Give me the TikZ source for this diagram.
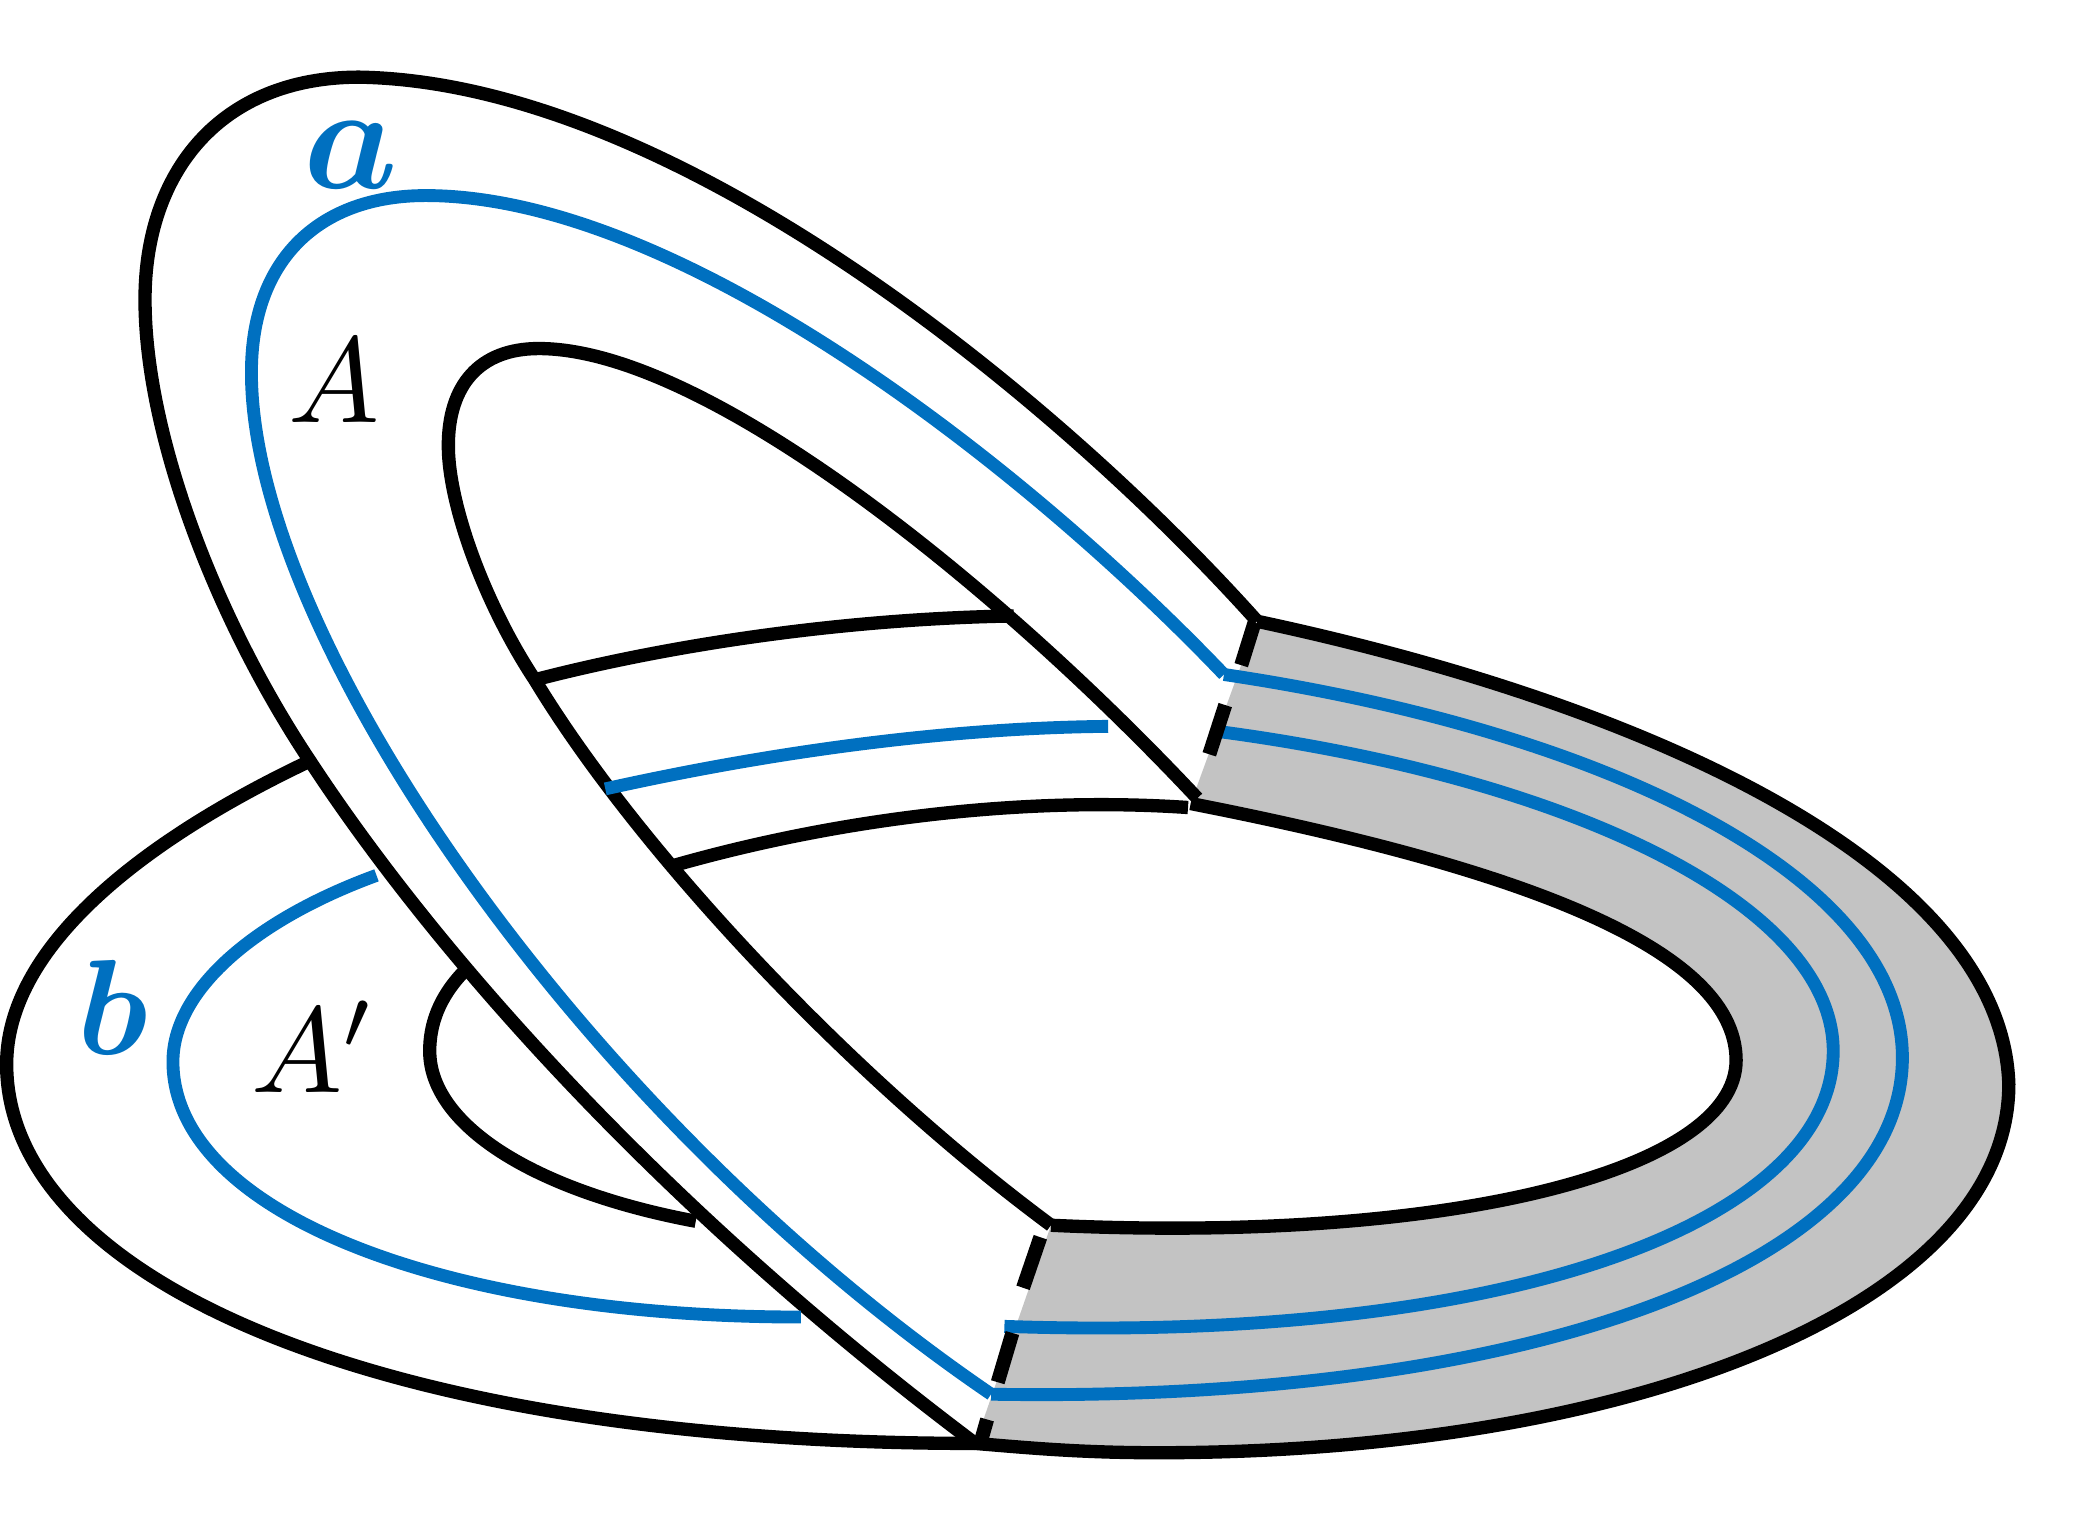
\documentclass[tikz,border=0pt]{standalone}
\usepackage{xcolor}
\definecolor{bandblue}{RGB}{0,112,192}
\definecolor{bandgray}{RGB}{195,195,195}
\newcommand{\outerside}{(ctop) .. controls (1250,532) and (1505,655) .. (1510,815) .. controls (1510,980) and (1230,1092) .. (870,1092) .. controls (810,1092) and (770,1088) .. (cbot)}
\newcommand{\innerside}{(clow) .. controls (1090,935) and (1305,880) .. (1305,797) .. controls (1305,710) and (1130,650) .. (cmid)}
\begin{document}
\begin{tikzpicture}[
    x=0.01cm, y=-0.01cm,
    edgeline/.style={draw=black, line width=2.85pt},
    curveline/.style={draw=bandblue, line width=2.75pt},
    cutline/.style={draw=black, line width=3pt},
    every node/.style={inner sep=0pt}]

    \useasboundingbox (0,0) rectangle (1568,1152);

    % corners of the two cuts
    \coordinate (ctop) at (945,467);
    \coordinate (cmid) at (895,604);
    \coordinate (clow) at (790,921);
    \coordinate (cbot) at (733,1085);
    \coordinate (cleft) at (233,572);
    \coordinate (cback) at (348,731);
    \coordinate (cfront) at (523,918);
    \coordinate (chole) at (402,511);
    \coordinate (cnear) at (505,651);

    % gray part of the band
    \fill[bandgray] \outerside -- \innerside -- cycle;

    % lower band
    \draw[edgeline] (cleft) .. controls (100,635) and (5,715) .. (5,800) .. controls (5,960) and (280,1085) .. (cbot);
    \draw[edgeline] (cback) .. controls (330,750) and (323,770) .. (323,790) .. controls (323,845) and (400,895) .. (cfront);
    \draw[edgeline] \outerside;
    \draw[edgeline] \innerside;

    % upper band
    \draw[edgeline] (ctop) .. controls (800,305) and (510,62) .. (270,58) .. controls (165,58) and (109,130) .. (109,225) .. controls (109,330) and (165,470) .. (cleft) .. controls (330,720) and (500,910) .. (cbot);
    \draw[edgeline] (900,600) .. controls (750,440) and (530,262) .. (405,262) .. controls (360,262) and (337,290) .. (337,335) .. controls (337,380) and (365,455) .. (chole) .. controls (480,640) and (640,810) .. (clow);

    % across the hole
    \draw[edgeline] (chole) .. controls (510,483) and (640,465) .. (762,463);
    \draw[edgeline] (cnear) .. controls (620,618) and (760,598) .. (893,607);

    % blue curves
    \coordinate (atop) at (920,507);
    \coordinate (abot) at (745,1048);
    \draw[curveline] (atop) .. controls (770,350) and (510,147) .. (320,147) .. controls (240,147) and (189,195) .. (189,280) .. controls (189,480) and (440,840) .. (abot);
    \draw[curveline] (atop) .. controls (1210,550) and (1430,660) .. (1430,795) .. controls (1430,950) and (1150,1055) .. (abot);
    \draw[curveline] (917,550) .. controls (1180,585) and (1378,680) .. (1378,790) .. controls (1378,920) and (1130,1010) .. (755,997);
    \draw[curveline] (455,593) .. controls (590,563) and (720,547) .. (833,546);
    \draw[curveline] (283,658) .. controls (190,692) and (130,745) .. (130,798) .. controls (130,910) and (330,990) .. (602,990);

    % dashed cuts
    \draw[cutline] (943,468) -- (933,500);
    \draw[cutline] (921,530) -- (909,567);
    \draw[cutline] (782,930) -- (769,968);
    \draw[cutline] (761,1002) -- (750,1039);
    \draw[cutline] (742,1067) -- (738,1081);

    % labels
    \node[text=bandblue, scale=3.2, font=\boldmath] (la) at (264,117) {$a$};
    \node[text=bandblue, scale=2.9, font=\boldmath] (lb) at (85,757) {$b$};
    \node[scale=2.6] (lA) at (251,286) {$A$};
    \node[scale=2.6] (lAp) at (236,787) {$A'$};

\end{tikzpicture}
\end{document}
